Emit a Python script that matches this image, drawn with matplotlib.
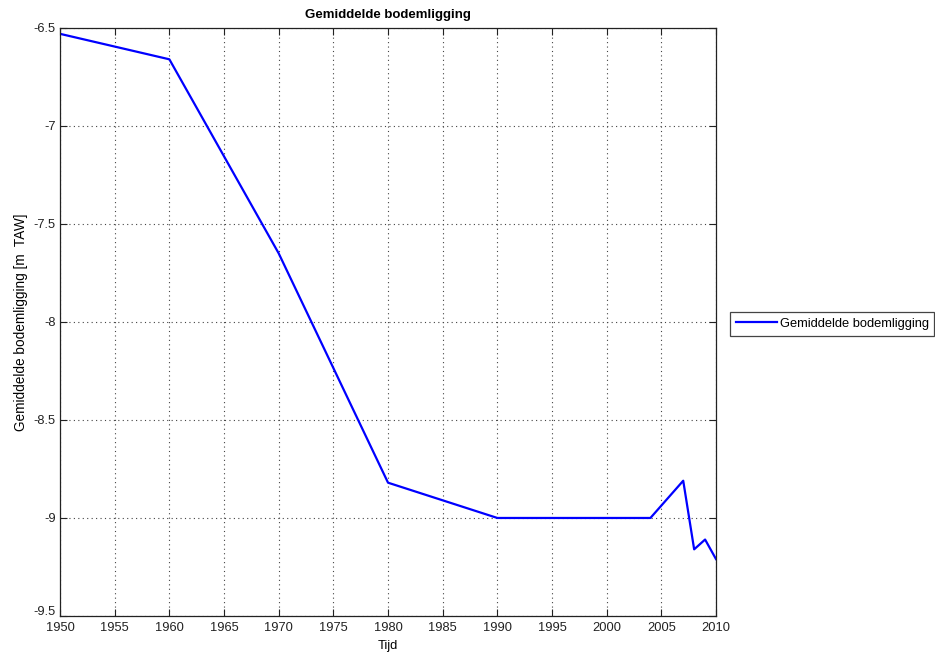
import matplotlib
matplotlib.use('Agg')
import matplotlib.pyplot as plt
import matplotlib.transforms as mtransforms

plt.rcParams['font.family'] = ['Liberation Sans', 'DejaVu Sans']

# data
years = [1950, 1960, 1970, 1980, 1990, 2004, 2007, 2008, 2009, 2010]
depth = [-6.53, -6.66, -7.65, -8.82, -9.0, -9.0, -8.81, -9.16, -9.11, -9.21]
xticks = list(range(1950, 2011, 5))
yticks = [-9.5, -9, -8.5, -8, -7.5, -7, -6.5]
ylabels = ['-9.5', '-9', '-8.5', '-8', '-7.5', '-7', '-6.5']

fig = plt.figure(figsize=(9.35, 6.53), dpi=100)
ax = fig.add_axes([0.0642, 0.0567, 0.7016, 0.9005])

ax.plot(years, depth, color='#0000ff', lw=1.6, label='Gemiddelde bodemligging')

ax.set_xlim(1950, 2010)
ax.set_ylim(-9.5, -6.5)
ax.set_xticks(xticks)
ax.set_yticks(yticks)
ax.set_yticklabels(ylabels)
ax.tick_params(direction='in', top=True, right=True, labelsize=9.3, length=5, width=0.8,
               pad=3, colors='#222222')
ax.tick_params(axis='x', pad=4)
ax.grid(True, linestyle=(0, (1, 3)), color='#444444', lw=0.8)
for s in ax.spines.values():
    s.set_linewidth(0.9)
    s.set_color('#222222')

# lift the lowest y label a little so it clears the 1950 label, as in the original
lowest = ax.get_yticklabels()[0]
lowest.set_transform(lowest.get_transform() + mtransforms.ScaledTranslation(0, 4 / 72, fig.dpi_scale_trans))

ax.set_title('Gemiddelde bodemligging', fontsize=9.5, fontweight='bold', pad=7)
ax.set_xlabel('Tijd', fontsize=9.3, labelpad=5)
ax.set_ylabel('Gemiddelde bodemligging [m  TAW]', fontsize=9.8, labelpad=4)

leg = ax.legend(loc='center left', bbox_to_anchor=(1.021, 0.497), fontsize=9.3,
                fancybox=False, framealpha=1, edgecolor='#444444',
                handlelength=3.2, handletextpad=0.2, borderpad=0.45, borderaxespad=0)
leg.get_frame().set_linewidth(0.9)

fig.savefig('out.png', dpi=100)
